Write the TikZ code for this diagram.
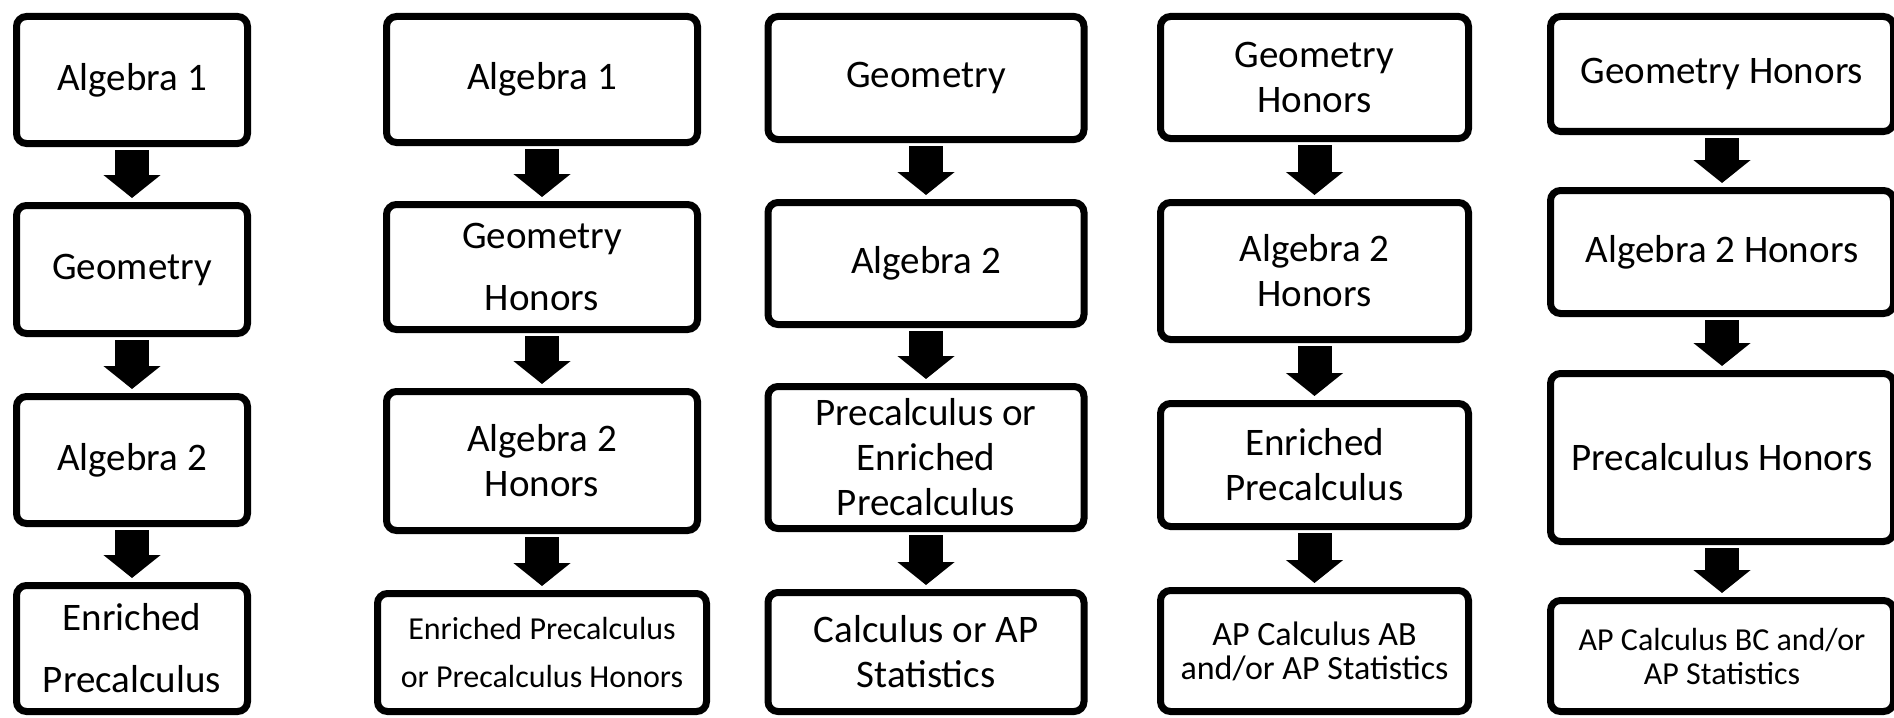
\documentclass[tikz,border=0pt]{standalone}
\usepackage{fontspec}
\setmainfont{Carlito}
\usetikzlibrary{arrows.meta, positioning}

\begin{document}
\begin{tikzpicture}[
    x=0.5pt, y=-0.5pt,
    crs/.style={draw=black, fill=white, line width=3.5pt, rounded corners=5pt, inner sep=0pt, align=center, font=\fontsize{19.5pt}{22.5pt}\selectfont},
    loose/.style={font=\fontsize{19.5pt}{31pt}\selectfont},
    arr/.style={line width=17pt, -{Triangle[width=28pt, length=11.5pt]}, shorten <=1.5pt, shorten >=2pt}
  ]
  \useasboundingbox[fill=white] (0,0) rectangle (1894,717);

  % Path 1
  \begin{scope}[shift={(132,0)}, every node/.append style={minimum width=115.5pt}]
    \node[crs, minimum height=63.5pt] (p1a) at (0,80) {Algebra 1};
    \node[crs, minimum height=64pt] (p1b) at (0,269.5) {Geometry};
    \node[crs, minimum height=63.5pt] (p1c) at (0,460) {Algebra 2};
    \node[crs, loose, minimum height=63pt] (p1d) at (0,648.5) {Enriched\\Precalculus};
    \foreach \i/\j in {a/b, b/c, c/d} \draw[arr] (p1\i) -- (p1\j);
  \end{scope}

  % Path 2
  \begin{scope}[shift={(542,0)}, every node/.append style={minimum width=155.5pt}]
    \node[crs, minimum height=63pt] (p2a) at (0,79.5) {Algebra 1};
    \node[crs, loose, minimum height=62.5pt] (p2b) at (0,267) {Geometry\\Honors};
    \node[crs, minimum height=69.5pt] (p2c) at (0,461) {Algebra 2\\Honors};
    \node[crs, font=\fontsize{16pt}{24pt}\selectfont, minimum height=59pt, minimum width=164.5pt] (p2d) at (0,652.5) {Enriched Precalculus\\or Precalculus Honors};
    \foreach \i/\j in {a/b, b/c, c/d} \draw[arr] (p2\i) -- (p2\j);
  \end{scope}

  % Path 3
  \begin{scope}[shift={(926,0)}, every node/.append style={minimum width=158pt}]
    \node[crs, minimum height=61.5pt] (p3a) at (0,78) {Geometry};
    \node[crs, minimum height=61pt] (p3b) at (0,263.5) {Algebra 2};
    \node[crs, minimum height=71pt] (p3c) at (0,457.5) {Precalculus or\\Enriched\\Precalculus};
    \node[crs, minimum height=59.5pt] (p3d) at (0,652) {Calculus or AP\\Statistics};
    \foreach \i/\j in {a/b, b/c, c/d} \draw[arr] (p3\i) -- (p3\j);
  \end{scope}

  % Path 4
  \begin{scope}[shift={(1314.5,0)}, every node/.append style={minimum width=154pt}]
    \node[crs, minimum height=61pt] (p4a) at (0,77.5) {Geometry\\Honors};
    \node[crs, minimum height=68.5pt] (p4b) at (0,271) {Algebra 2\\Honors};
    \node[crs, minimum height=61.5pt] (p4c) at (0,465) {Enriched\\Precalculus};
    \node[crs, font=\fontsize{17pt}{17pt}\selectfont, minimum height=60.5pt] (p4d) at (0,651) {AP Calculus AB\\and/or AP Statistics};
    \foreach \i/\j in {a/b, b/c, c/d} \draw[arr] (p4\i) -- (p4\j);
  \end{scope}

  % Path 5
  \begin{scope}[shift={(1722,0)}, every node/.append style={minimum width=171.5pt}]
    \node[crs, minimum height=57.5pt] (p5a) at (0,74) {Geometry Honors};
    \node[crs, minimum height=61.5pt] (p5b) at (0,252) {Algebra 2 Honors};
    \node[crs, minimum height=84pt] (p5c) at (0,457.5) {Precalculus Honors};
    \node[crs, font=\fontsize{16pt}{17pt}\selectfont, minimum height=55.5pt] (p5d) at (0,656) {AP Calculus BC and/or\\AP Statistics};
    \foreach \i/\j in {a/b, b/c, c/d} \draw[arr] (p5\i) -- (p5\j);
  \end{scope}
\end{tikzpicture}
\end{document}
